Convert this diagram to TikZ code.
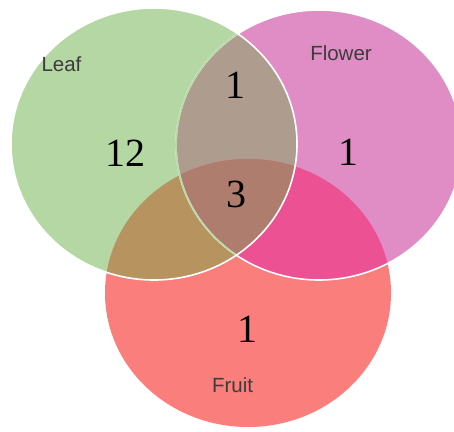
\documentclass[tikz,border=0pt]{standalone}
\usepackage{fontspec}
\setmainfont{Liberation Serif}
\newfontfamily\labelfont{Liberation Sans}
\definecolor{leafc}{HTML}{B5D7A4}
\definecolor{flowerc}{HTML}{E08DC5}
\definecolor{fruitc}{HTML}{FA7E7B}
\definecolor{lfc}{HTML}{AE9D8E}
\definecolor{lrc}{HTML}{B7935F}
\definecolor{frc}{HTML}{EC5193}
\definecolor{allc}{HTML}{AF7D6D}
\definecolor{labc}{HTML}{3C3C3C}
\definecolor{seamc}{HTML}{B9DBA9}
\tikzset{
  num/.style={anchor=base, inner sep=0pt, font=\fontsize{40}{40}\selectfont, text=black},
  lab/.style={anchor=base, inner sep=0pt, font=\labelfont\fontsize{20.5}{20.5}\selectfont, text=labc},
  rim/.style={draw=white, line width=1.6pt}
}
\def\leafpath{(154,144) ellipse [x radius=143, y radius=136]}
\def\flowerpath{(319,145) ellipse [x radius=143, y radius=135]}
\def\fruitpath{(248,293) ellipse [x radius=143, y radius=134]}
\begin{document}
\begin{tikzpicture}[x=1pt,y=-1pt]
\useasboundingbox (0,0) rectangle (454,431);
% base fills
\fill[fruitc] \fruitpath;
\fill[flowerc] \flowerpath;
\fill[leafc] \leafpath;
% pairwise overlaps
\begin{scope}
  \clip \leafpath;
  \fill[lfc] \flowerpath;
  \fill[lrc] \fruitpath;
\end{scope}
\begin{scope}
  \clip \flowerpath;
  \fill[frc] \fruitpath;
\end{scope}
\begin{scope}
  \clip \leafpath;
  \clip \flowerpath;
  \fill[allc] \fruitpath;
\end{scope}
% outlines
\draw[rim] \flowerpath;
\begin{scope}
  \clip \leafpath;
  \draw[draw=seamc, line width=1.6pt] \flowerpath;
\end{scope}
\draw[rim] \leafpath;
% labels
\node[lab] (leaf) at (61.5,71) {Leaf};
\node[lab] (flower) at (341,60) {Flower};
\node[lab] (fruit) at (232.5,392) {Fruit};
% counts
\node[num] (nleaf) at (125,166) {12};
\node[num] (nlf) at (235,98) {1};
\node[num] (nall) at (236,207) {3};
\node[num] (nflower) at (348,165) {1};
\node[num] (nfruit) at (247,342) {1};
\end{tikzpicture}
\end{document}
